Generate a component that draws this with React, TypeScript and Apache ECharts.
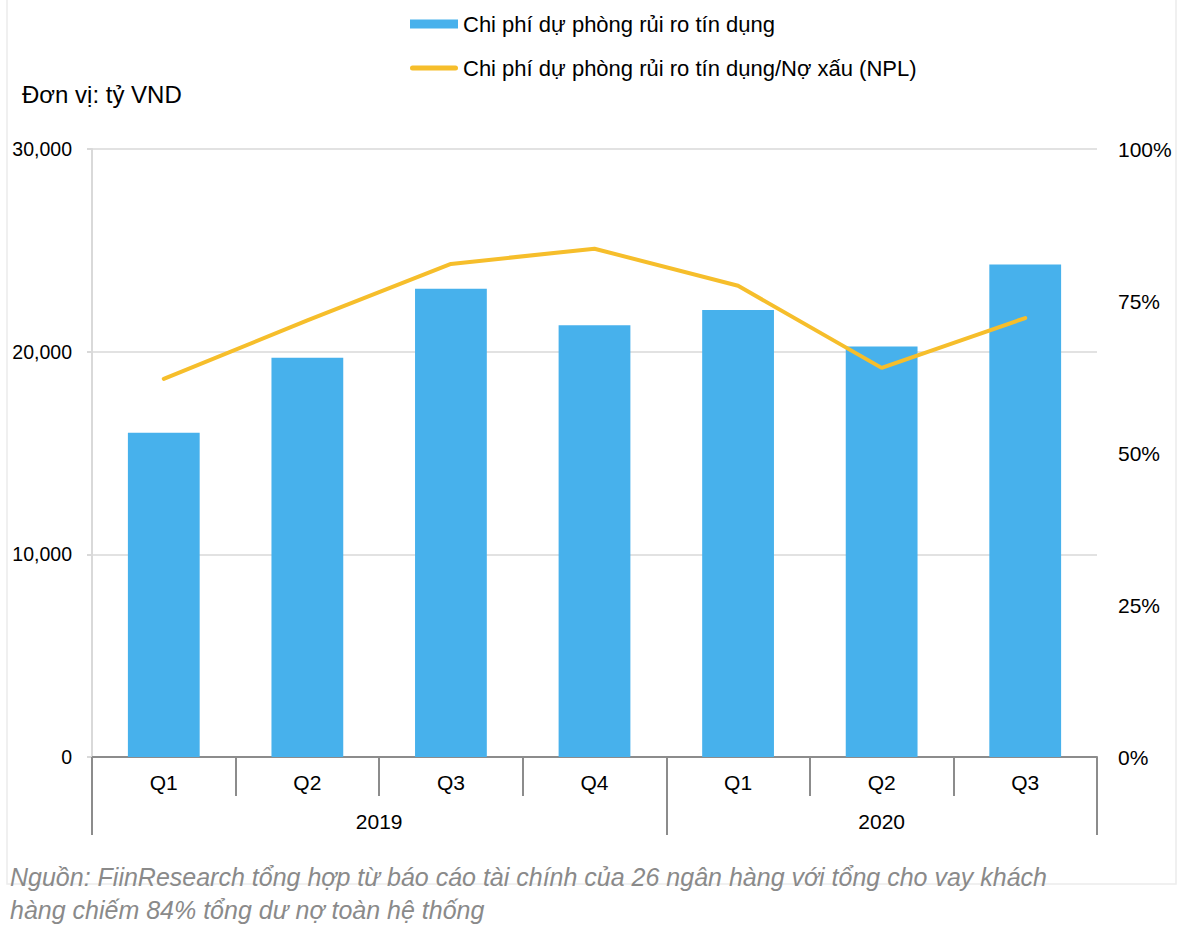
import React, { useEffect, useRef } from "react";
import * as echarts from "echarts";

const quarters = ["Q1", "Q2", "Q3", "Q4", "Q1", "Q2", "Q3"];
const years = ["2019", "2020"];
const yearLabelPos = [2, 5.5];
const yearBounds = [0, 4, 7];
const provisionCost = [16000, 19700, 23100, 21300, 22050, 20250, 24300];
const provisionToNpl = [0.622, 0.718, 0.811, 0.836, 0.775, 0.64, 0.722];
const leftTicks = { min: 0, max: 30000, interval: 10000 };
const rightTicks = { min: 0, max: 1, interval: 0.25 };

const barName = "Chi phí dự phòng rủi ro tín dụng";
const lineName = "Chi phí dự phòng rủi ro tín dụng/Nợ xấu (NPL)";
const unitText = "Đơn vị: tỷ VND";
const sourceLines = [
  "Nguồn: FiinResearch tổng hợp từ báo cáo tài chính của 26 ngân hàng với tổng cho vay khách",
  "hàng chiếm 84% tổng dư nợ toàn hệ thống",
];

const FONT = "'Liberation Sans', Arial, sans-serif";
const AXIS_GRAY = "#8c8c8c";
const GRID_GRAY = "#d9d9d9";
const BAR_COLOR = "#47b1ec";
const LINE_COLOR = "#f6be2b";

export default function App() {
  const ref = useRef<HTMLDivElement>(null);
  useEffect(() => {
    document.body.style.margin = "0";
    if (!ref.current) return;
    const chart = echarts.init(ref.current, undefined, { renderer: "svg" });
    chart.setOption({
      animation: false,
      backgroundColor: "#ffffff",
      textStyle: { fontFamily: FONT },
      grid: { left: 92, right: 89, top: 149, bottom: 187, containLabel: false },
      legend: {
        orient: "vertical",
        left: 405,
        top: 8,
        itemGap: 22,
        itemWidth: 48,
        itemHeight: 9,
        textStyle: { fontSize: 22, color: "#000", fontFamily: FONT },
        data: [
          { name: barName, icon: "rect", itemStyle: { color: BAR_COLOR } },
          {
            name: lineName,
            icon: "path://M2.5,0 L45.5,0 A2.5,2.5 0 0 1 45.5,5 L2.5,5 A2.5,2.5 0 0 1 2.5,0 Z",
            itemStyle: { color: LINE_COLOR },
          },
        ],
      },
      xAxis: [
        {
          type: "category",
          data: quarters,
          position: "bottom",
          axisLine: { show: true, lineStyle: { color: AXIS_GRAY, width: 2 } },
          axisTick: { show: true, length: 39, lineStyle: { color: AXIS_GRAY, width: 2 } },
          axisLabel: { fontSize: 21, color: "#000", margin: 15, fontFamily: FONT },
          splitLine: { show: false },
        },
        {
          type: "value",
          min: 0,
          max: 7,
          position: "bottom",
          axisLine: { show: false },
          axisTick: {
            show: true,
            length: 78,
            customValues: yearBounds,
            lineStyle: { color: AXIS_GRAY, width: 2 },
          },
          axisLabel: {
            show: true,
            customValues: yearLabelPos,
            margin: 54,
            fontSize: 21,
            color: "#000",
            fontFamily: FONT,
            formatter: (v: number) => years[yearLabelPos.indexOf(v)] ?? "",
          },
          splitLine: { show: false },
        },
      ],
      yAxis: [
        {
          type: "value",
          ...leftTicks,
          axisLine: { show: true, lineStyle: { color: GRID_GRAY, width: 2 } },
          axisTick: { show: true, length: 5, lineStyle: { color: GRID_GRAY, width: 2 } },
          axisLabel: {
            fontSize: 19.5,
            color: "#000",
            margin: 20,
            fontFamily: FONT,
            formatter: (v: number) => v.toLocaleString("en-US"),
          },
          splitLine: { show: true, lineStyle: { color: GRID_GRAY, width: 1.5 } },
        },
        {
          type: "value",
          ...rightTicks,
          position: "right",
          axisLine: { show: false },
          axisTick: { show: false },
          axisLabel: {
            fontSize: 21,
            color: "#000",
            margin: 21,
            fontFamily: FONT,
            formatter: (v: number) => Math.round(v * 100) + "%",
          },
          splitLine: { show: false },
        },
      ],
      series: [
        {
          name: barName,
          type: "bar",
          xAxisIndex: 0,
          yAxisIndex: 0,
          data: provisionCost,
          barWidth: "50%",
          itemStyle: { color: BAR_COLOR },
        },
        {
          name: lineName,
          type: "line",
          xAxisIndex: 0,
          yAxisIndex: 1,
          data: provisionToNpl,
          symbol: "none",
          lineStyle: { color: LINE_COLOR, width: 4, cap: "round" },
          itemStyle: { color: LINE_COLOR },
        },
      ],
      graphic: [
        {
          type: "rect",
          shape: { x: 7, y: -2, width: 1169, height: 886 },
          style: { fill: "none", stroke: "#ececec", lineWidth: 1.5 },
          silent: true,
          z: -1,
        },
        {
          type: "text",
          left: 22,
          top: 82,
          style: { text: unitText, fontSize: 24, fill: "#000", fontFamily: FONT },
        },
        {
          type: "text",
          left: 10,
          top: 860,
          style: {
            text: sourceLines.join("\n"),
            fontSize: 25,
            lineHeight: 33,
            fontStyle: "italic",
            fill: "#8a8a8a",
            fontFamily: FONT,
          },
        },
      ],
    });
    return () => chart.dispose();
  }, []);
  return <div ref={ref} style={{ width: 1186, height: 944 }} />;
}
